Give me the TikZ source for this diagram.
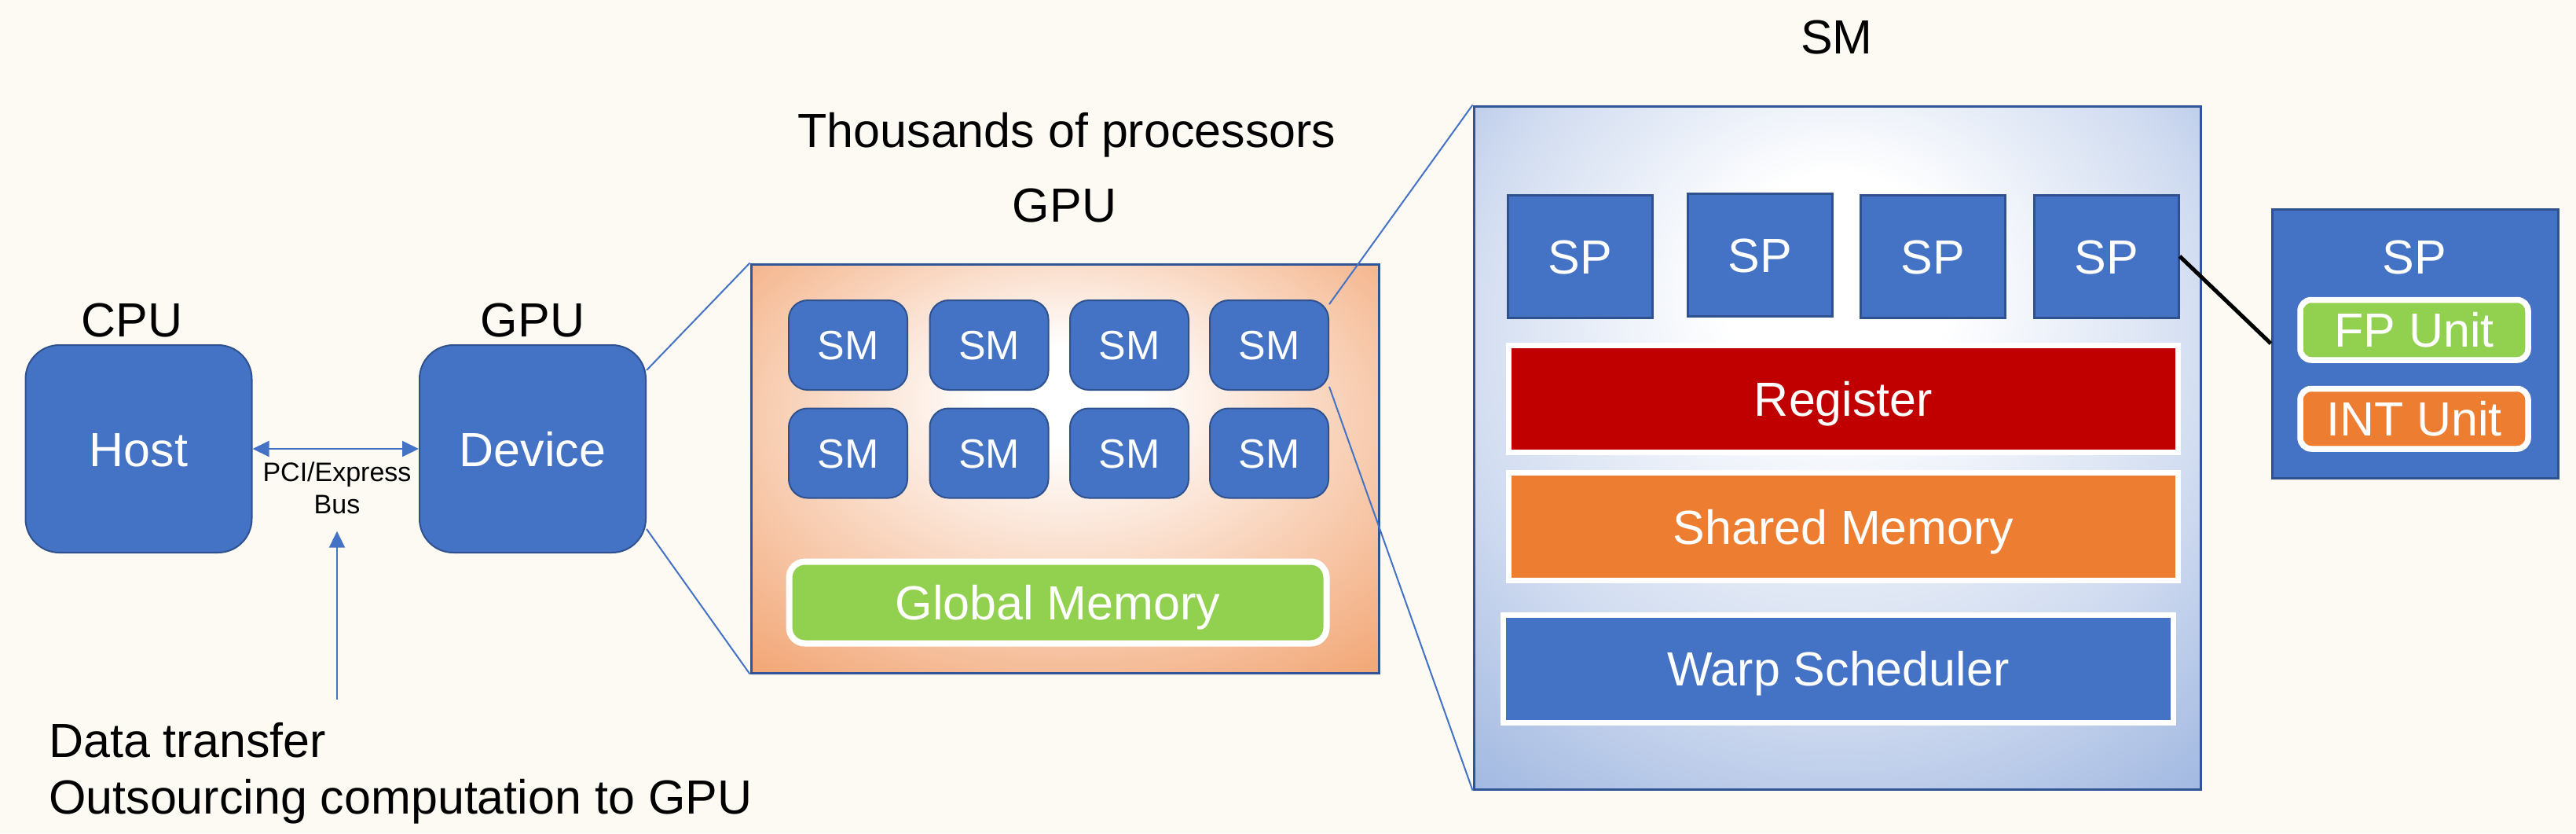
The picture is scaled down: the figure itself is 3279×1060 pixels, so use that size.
\documentclass[tikz,border=0pt]{standalone}
\usepackage{fontspec}
\setmainfont{Liberation Sans}
\usetikzlibrary{arrows.meta,calc}
\definecolor{bgc}{RGB}{253,249,243}
\definecolor{blu}{HTML}{4472C4}
\definecolor{dblu}{HTML}{2F528F}
\definecolor{bord}{HTML}{2F5597}
\definecolor{redc}{HTML}{C00000}
\definecolor{orc}{HTML}{ED7D31}
\definecolor{grn}{HTML}{92D050}
\definecolor{gpuor}{RGB}{240,155,100}
\definecolor{smblue}{RGB}{140,168,218}
\pgfdeclareradialshading{gpushade}{\pgfpoint{0bp}{10bp}}{color(0bp)=(white); color(6bp)=(white); color(22bp)=(gpuor!45!white); color(42bp)=(gpuor); color(60bp)=(gpuor)}
\pgfdeclareradialshading{smshade}{\pgfpoint{0bp}{14bp}}{color(0bp)=(white); color(8bp)=(white); color(26bp)=(smblue!40!white); color(45bp)=(smblue); color(60bp)=(smblue)}
\newcommand\myBig{\fontsize{61}{73}\selectfont}
\newcommand\mySM{\fontsize{52}{62}\selectfont}
\newcommand\myPCI{\fontsize{34}{41}\selectfont}
\begin{document}
\begin{tikzpicture}[x=1pt,y=-1pt,
  lbl/.style={font=\myBig, text=black, inner sep=0pt},
  blubox/.style={fill=blu, draw=dblu, line width=2pt, text=white, font=\myBig, text height=44pt, text depth=0pt, inner sep=0pt},
  hbox/.style={blubox, rounded corners=43pt, minimum width=288pt, minimum height=264pt},
  smcell/.style={blubox, rounded corners=24pt, minimum width=151pt, minimum height=114pt, font=\mySM, text height=37pt},
  spcell/.style={blubox, line width=3pt, minimum width=184pt, minimum height=156pt},
  layer/.style={draw=white, line width=7pt, text=white, font=\myBig, text height=44pt, text depth=0pt, inner sep=0pt},
  bigbox/.style={draw=bord, line width=3pt, inner sep=0pt},
  conn/.style={draw=blu, line width=2pt},
  tip/.style={Triangle[length=21pt,width=20pt]}
]
\fill[bgc] (0,0) rectangle (3279,1060);
\useasboundingbox (0,0) rectangle (3279,1060);

% Host / Device
\node[lbl, anchor=base] (cpu) at (168,428) {CPU};
\node[hbox] (host) at (176.5,571) {Host};
\node[lbl, anchor=base] (gpulbl) at (678,428) {GPU};
\node[hbox] (device) at (678,571) {Device};
\draw[conn, {Triangle[length=21pt,width=20pt]}-{Triangle[length=21pt,width=20pt]}] (host.east) -- (device.west);
\node[font=\myPCI, align=center, inner sep=0pt] (pci) at (429,620.5) {PCI/Express\\Bus};
\node[lbl, anchor=base west] (dt1) at (62,963) {Data transfer};
\node[lbl, anchor=base west] (dt2) at (62,1035) {Outsourcing computation to GPU};
\coordinate (dtail) at (429,890);
\draw[conn, -{Triangle[length=21pt,width=20pt]}] (dtail) -- ([yshift=-22pt]pci.south);

% GPU box
\node[lbl, anchor=base] (thou) at (1358,187) {Thousands of processors};
\node[lbl, anchor=base] (gputitle) at (1355,282) {GPU};
\node[bigbox, shade, shading=gpushade, minimum width=799pt, minimum height=520pt] (gpu) at (1355.5,596) {};
\foreach \i/\x in {1/1079.5,2/1259,3/1437.5,4/1615.5}{
  \node[smcell] (sm\i) at (\x,439) {SM};
}
\foreach \i/\x in {5/1079.5,6/1259,7/1437.5,8/1615.5}{
  \node[smcell] (sm\i) at (\x,576.5) {SM};
}
\node[layer, fill=grn, line width=8pt, rounded corners=20pt, minimum width=684pt, minimum height=104pt] (glob) at (1346.5,766.5) {Global Memory};
\draw[conn] ([yshift=-33pt]device.north east) -- (gpu.north west);
\draw[conn] ([yshift=31pt]device.south east) -- (gpu.south west);

% SM box
\node[lbl, anchor=base] (smtitle) at (2338,68) {SM};
\node[bigbox, shade, shading=smshade, minimum width=925pt, minimum height=869pt] (smbox) at (2338.5,569.5) {};
\node[spcell] (sp1) at (2011,326) {SP};
\node[spcell] (sp2) at (2240,324) {SP};
\node[spcell] (sp3) at (2460,326) {SP};
\node[spcell] (sp4) at (2681,326) {SP};
\node[layer, fill=redc, minimum width=852pt, minimum height=136pt] (reg) at (2346.5,507.5) {Register};
\node[layer, fill=orc, minimum width=852pt, minimum height=137pt] (shm) at (2346.5,670) {Shared Memory};
\node[layer, fill=blu, minimum width=853pt, minimum height=137.5pt] (warp) at (2340,850.75) {Warp Scheduler};
\draw[conn] ([yshift=-6pt]sm4.north east) -- (smbox.north west);
\draw[conn] ([yshift=5pt]sm4.south east) -- (smbox.south west);

% SP detail
\node[blubox, line width=3pt, minimum width=364pt, minimum height=342pt] (spd) at (3074,437) {};
\node[lbl, text=white, anchor=base] (spdt) at (3073,348) {SP};
\node[layer, fill=grn, line width=7.5pt, rounded corners=14pt, minimum width=290pt, minimum height=76.5pt] (fp) at (3073,419.75) {FP Unit};
\node[layer, fill=orc, line width=7.5pt, rounded corners=14pt, minimum width=290pt, minimum height=76.5pt] (int) at (3073,532.75) {INT Unit};
\draw[line width=5pt, black] (sp4.east) -- (spd.west);
\end{tikzpicture}
\end{document}
